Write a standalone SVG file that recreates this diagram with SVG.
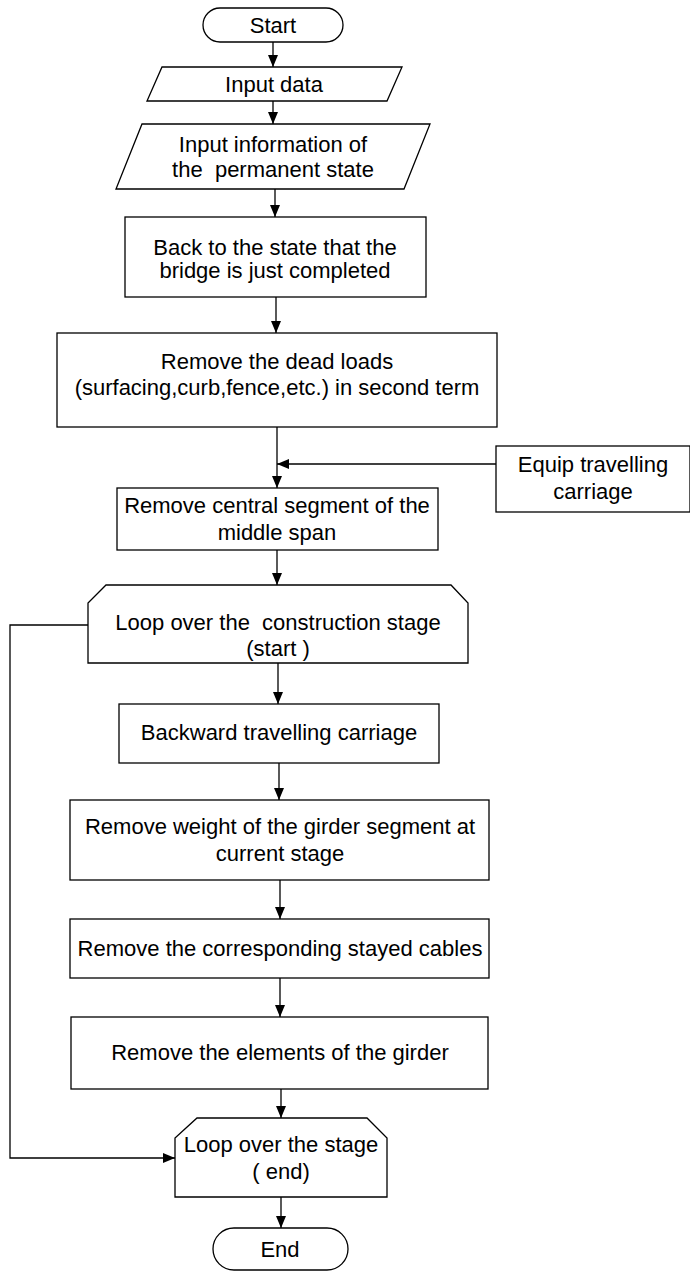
<svg xmlns="http://www.w3.org/2000/svg" width="690" height="1276" viewBox="0 0 690 1276">
<defs>
<marker id="ah" markerUnits="userSpaceOnUse" markerWidth="12" markerHeight="10" refX="12" refY="5" orient="auto">
<path d="M0,0 L12,5 L0,10 z" fill="#000"/>
</marker>
<style>
.n{fill:#fff;stroke:#000;stroke-width:1.3}
.t{font-family:"Liberation Sans",Arial,sans-serif;font-size:22px;fill:#000;text-anchor:middle}
.c{fill:none;stroke:#000;stroke-width:1.3;marker-end:url(#ah)}
</style>
</defs>
<rect width="690" height="1276" fill="#fff"/>
<g id="connectors">
<line class="c" x1="273" y1="42" x2="273" y2="67"/>
<line class="c" x1="273" y1="101" x2="273" y2="124"/>
<line class="c" x1="275" y1="189" x2="275" y2="217"/>
<line class="c" x1="276" y1="297" x2="276" y2="333"/>
<line class="c" x1="277" y1="427" x2="277" y2="488"/>
<line class="c" x1="496" y1="464" x2="277" y2="464"/>
<line class="c" x1="277" y1="550" x2="277" y2="585"/>
<line class="c" x1="278" y1="663" x2="278" y2="704"/>
<line class="c" x1="279" y1="763" x2="279" y2="800"/>
<line class="c" x1="280" y1="880" x2="280" y2="919"/>
<line class="c" x1="280" y1="978" x2="280" y2="1017"/>
<line class="c" x1="281" y1="1089" x2="281" y2="1118"/>
<line class="c" x1="281" y1="1197" x2="281" y2="1228"/>
<polyline class="c" points="88,625 10,625 10,1158 175,1158"/>
</g>
<g id="start"><rect class="n" x="203" y="8" width="140" height="34" rx="17"/><text class="t" x="273" y="33">Start</text></g>
<g id="input-data"><polygon class="n" points="162,67 402,67 387,101 147,101"/><text class="t" x="274" y="92">Input data</text></g>
<g id="input-info"><polygon class="n" points="142,124 430,124 404,189 116,189"/><text class="t" x="273" y="152">Input information of</text><text class="t" x="273" y="177" xml:space="preserve">the  permanent state</text></g>
<g id="back"><rect class="n" x="125" y="217" width="301" height="80"/><text class="t" x="275" y="255">Back to the state that the</text><text class="t" x="275" y="278">bridge is just completed</text></g>
<g id="dead-loads"><rect class="n" x="57" y="333" width="440" height="94"/><text class="t" x="277" y="369">Remove the dead loads</text><text class="t" x="277" y="395">(surfacing,curb,fence,etc.) in second term</text></g>
<g id="equip"><rect class="n" x="496" y="446" width="194" height="66"/><text class="t" x="593" y="472">Equip travelling</text><text class="t" x="593" y="499">carriage</text></g>
<g id="central"><rect class="n" x="117" y="488" width="321" height="62"/><text class="t" x="277" y="513">Remove central segment of the</text><text class="t" x="277" y="540">middle span</text></g>
<g id="loop-start"><polygon class="n" points="106,585 451,585 468,603 468,663 88,663 88,603"/><text class="t" x="278" y="630" xml:space="preserve">Loop over the  construction stage</text><text class="t" x="278" y="656">(start )</text></g>
<g id="backward"><rect class="n" x="119" y="704" width="320" height="59"/><text class="t" x="279" y="740">Backward travelling carriage</text></g>
<g id="remove-weight"><rect class="n" x="70" y="800" width="419" height="80"/><text class="t" x="280" y="834">Remove weight of the girder segment at</text><text class="t" x="280" y="861">current stage</text></g>
<g id="remove-cables"><rect class="n" x="70" y="919" width="419" height="59"/><text class="t" x="280" y="956">Remove the corresponding stayed cables</text></g>
<g id="remove-elements"><rect class="n" x="71" y="1017" width="417" height="72"/><text class="t" x="280" y="1060">Remove the elements of the girder</text></g>
<g id="loop-end"><polygon class="n" points="197,1118 367,1118 387,1138 387,1197 175,1197 175,1138"/><text class="t" x="281" y="1152">Loop over the stage</text><text class="t" x="281" y="1179">( end)</text></g>
<g id="end"><rect class="n" x="213" y="1228" width="135" height="42" rx="21"/><text class="t" x="280" y="1257">End</text></g>
</svg>
